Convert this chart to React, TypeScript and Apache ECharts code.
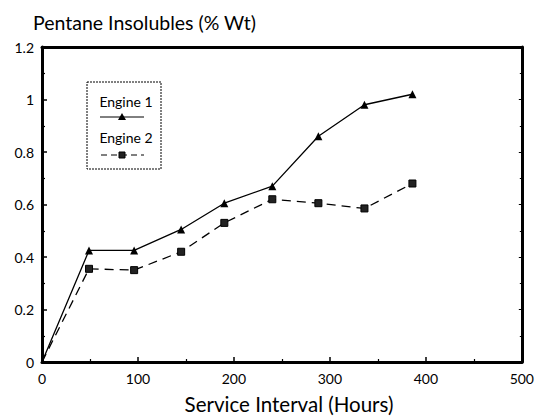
import React, { useEffect, useRef } from "react";
import * as echarts from "echarts";

const hours = [0, 49, 96, 145, 190, 240, 288, 336, 386];
const engine1 = [0, 0.425, 0.425, 0.505, 0.605, 0.67, 0.86, 0.98, 1.02];
const engine2 = [0, 0.355, 0.35, 0.42, 0.53, 0.62, 0.605, 0.585, 0.68];
const seriesNames = ["Engine 1", "Engine 2"];
const yTitle = "Pentane Insolubles (% Wt)";
const xTitle = "Service Interval (Hours)";

const FONT = "Lato, 'DejaVu Sans', sans-serif";

export default function App() {
  const ref = useRef<HTMLDivElement>(null);
  useEffect(() => {
    if (!ref.current) return;
    const chart = echarts.init(ref.current, undefined, { renderer: "svg" });
    const axisLine = { show: true, onZero: false, lineStyle: { color: "#000", width: 3 } };
    const baseX = {
      type: "value" as const,
      min: 0,
      max: 500,
      interval: 100,
      splitLine: { show: false },
      axisLine,
    };
    const baseY = {
      type: "value" as const,
      min: 0,
      max: 1.2,
      interval: 0.2,
      splitLine: { show: false },
      axisLine,
    };
    const e1 = hours.map((h, i) => [h, engine1[i]]);
    const e2 = hours.map((h, i) => [h, engine2[i]]);
    chart.setOption({
      animation: false,
      backgroundColor: "#fff",
      textStyle: { fontFamily: FONT },
      grid: { left: 42, right: 12, top: 47, bottom: 55 },
      xAxis: [
        {
          ...baseX,
          position: "bottom",
          axisTick: { show: true, inside: true, length: 5, lineStyle: { color: "#000", width: 1.5 } },
          minorTick: { show: true, splitNumber: 2, length: 3, lineStyle: { color: "#000", width: 1.2 } },
          axisLabel: { color: "#000", fontSize: 14, fontFamily: FONT, margin: 9 },
        },
        {
          ...baseX,
          position: "top",
          axisTick: { show: false },
          axisLabel: { show: false },
        },
      ],
      yAxis: [
        {
          ...baseY,
          position: "left",
          axisTick: { show: true, inside: true, length: 5, lineStyle: { color: "#000", width: 1.5 } },
          minorTick: { show: true, splitNumber: 2, length: 3, lineStyle: { color: "#000", width: 1.2 } },
          axisLabel: { color: "#000", fontSize: 14, fontFamily: FONT, margin: 8 },
        },
        {
          ...baseY,
          position: "right",
          axisTick: { show: true, inside: true, length: 3, lineStyle: { color: "#000", width: 1 } },
          minorTick: { show: true, splitNumber: 2, length: 2, lineStyle: { color: "#000", width: 1 } },
          axisLabel: { show: false },
        },
      ],
      series: [
        {
          name: seriesNames[0],
          type: "line",
          data: e1,
          symbol: (v: number[]) => (v[0] === 0 ? "none" : "triangle"),
          symbolSize: 8,
          lineStyle: { color: "#000", width: 1.3, type: "solid" },
          itemStyle: { color: "#000" },
        },
        {
          name: seriesNames[1],
          type: "line",
          data: e2,
          symbol: (v: number[]) => (v[0] === 0 ? "none" : "rect"),
          symbolSize: 7,
          lineStyle: { color: "#000", width: 1.3, type: [9, 6] },
          itemStyle: { color: "#222", borderColor: "#000", borderWidth: 1 },
        },
      ],
      graphic: [
        {
          type: "text",
          x: 33,
          y: 22,
          style: {
            text: yTitle,
            fontSize: 19.5,
            fontFamily: FONT,
            fill: "#000",
            align: "left",
            verticalAlign: "middle",
          },
        },
        {
          type: "text",
          x: 289,
          y: 404,
          style: {
            text: xTitle,
            fontSize: 20.5,
            fontFamily: FONT,
            fill: "#000",
            align: "center",
            verticalAlign: "middle",
          },
        },
        {
          type: "rect",
          shape: { x: 87, y: 82, width: 74, height: 87 },
          style: { fill: "none", stroke: "#000", lineWidth: 1, lineDash: [2, 1] },
        },
        {
          type: "text",
          x: 126,
          y: 101,
          style: {
            text: seriesNames[0],
            fontSize: 14,
            fontFamily: FONT,
            fill: "#000",
            align: "center",
            verticalAlign: "middle",
          },
        },
        {
          type: "line",
          shape: { x1: 100, y1: 117, x2: 144, y2: 117 },
          style: { stroke: "#000", lineWidth: 1 },
        },
        {
          type: "polygon",
          shape: { points: [[122, 113], [126, 120], [118, 120]] },
          style: { fill: "#000" },
        },
        {
          type: "text",
          x: 126,
          y: 137,
          style: {
            text: seriesNames[1],
            fontSize: 14,
            fontFamily: FONT,
            fill: "#000",
            align: "center",
            verticalAlign: "middle",
          },
        },
        {
          type: "line",
          shape: { x1: 101, y1: 155, x2: 144, y2: 155 },
          style: { stroke: "#000", lineWidth: 1, lineDash: [6, 4] },
        },
        {
          type: "rect",
          shape: { x: 119, y: 152, width: 6, height: 6 },
          style: { fill: "#222", stroke: "#000", lineWidth: 1 },
        },
      ],
    });
    return () => chart.dispose();
  }, []);
  return (
    <div
      ref={ref}
      style={{ position: "fixed", left: 0, top: 0, width: 537, height: 417 }}
    />
  );
}
